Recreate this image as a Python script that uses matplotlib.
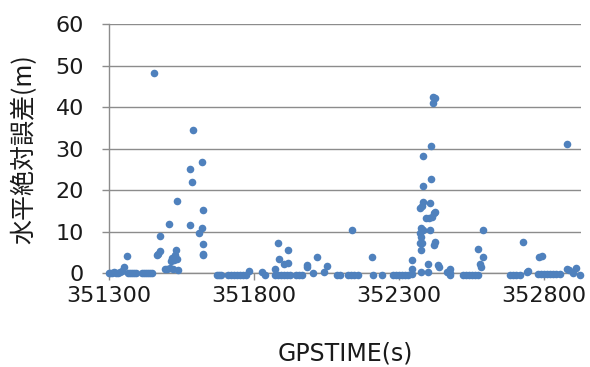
import matplotlib.pyplot as plt

plt.rcParams['font.family'] = ['DejaVu Sans', 'Noto Sans CJK JP']

# GPS time (s) and horizontal absolute error (m)
gps_time = [
    # first cluster near zero
    351300, 351303, 351310, 351317, 351324, 351331, 351338, 351345,
    351366, 351372, 351379, 351386, 351393,
    351414, 351421, 351428, 351435, 351441, 351448,
    351352, 351363,
    # first peak
    351455, 351465, 351470, 351476, 351476, 351507, 351534, 351579,
    351586, 351591, 351579, 351611, 351622, 351623, 351622, 351625,
    351623, 351625, 351531, 351518, 351524, 351534, 351514, 351528,
    351493, 351500, 351510, 351520, 351538,
    # low stretch
    351673, 351680, 351686, 351711, 351721, 351731, 351742, 351752,
    351762, 351773, 351783,
    351827, 351838,
    351873, 351883, 351893, 351904, 351914, 351924, 351945, 351956, 351966,
    351884, 351887, 351873, 351904, 351919, 351919, 351982, 351982,
    352004, 352016, 352042, 352051,
    352087, 352097, 352125, 352135, 352145, 352159, 352137,
    352208, 352210, 352241,
    352280, 352290, 352300, 352311, 352321, 352332, 352344, 352344, 352344,
    # second peak
    352375, 352402, 352375, 352378, 352373, 352376, 352373, 352384,
    352407, 352375, 352373, 352378, 352384, 352407, 352393, 352404,
    352413, 352425, 352420, 352425, 352421, 352384, 352411, 352384,
    352411, 352418, 352425, 352418, 352402, 352436, 352440,
    352466, 352476, 352476, 352476,
    352521, 352532, 352542, 352552, 352563, 352573,
    352574, 352589, 352589, 352580, 352582,
    # tail
    352683, 352694, 352704, 352718, 352729, 352741, 352746,
    352780, 352790, 352801, 352811, 352821, 352832, 352842, 352856,
    352784, 352793,
    352881, 352885, 352901, 352911, 352925, 352881,
]
h_error = [
    0.1, 0.1, 0.1, 0.2, 0.1, 0.1, 0.2, 0.5,
    0.1, 0.1, 0.1, 0.1, 0.1,
    0.1, 0.1, 0.1, 0.1, 0.1, 0.1,
    1.5, 4.1,
    48.3, 4.3, 4.6, 5.4, 8.9, 11.8, 17.3, 25.0,
    21.9, 34.6, 11.6, 9.8, 26.7, 15.2, 11.0, 7.0,
    4.7, 4.3, 5.7, 3.6, 3.3, 3.5, 3.0, 4.3,
    1.0, 1.1, 1.2, 1.0, 0.8,
    -0.4, -0.4, -0.4, -0.4, -0.4, -0.4, -0.4, -0.4,
    -0.4, -0.4, 0.6,
    0.3, -0.4,
    -0.4, -0.4, -0.4, -0.4, -0.4, -0.4, -0.4, -0.4, -0.4,
    7.3, 3.5, 1.1, 2.3, 2.5, 5.5, 1.9, 1.5,
    0.0, 3.9, 0.2, 1.8,
    -0.4, -0.4, -0.4, -0.4, -0.4, -0.4, 10.5,
    3.9, -0.4, -0.4,
    -0.4, -0.4, -0.4, -0.4, -0.4, -0.4, -0.2, 3.1, 1.1,
    0.2, 0.3, 5.7, 7.3, 9.6, 8.7, 7.2, 10.4,
    10.4, 10.8, 15.6, 16.3, 17.1, 16.9, 13.2, 13.2,
    13.6, 14.8, 14.4, 7.5, 6.9, 21.0, 22.8, 28.3,
    30.7, 42.5, 42.1, 41.1, 2.3, 1.9, 1.4,
    0.3, 1.1, 0.0, -0.4,
    -0.4, -0.4, -0.4, -0.4, -0.4, -0.4,
    5.9, 10.4, 3.9, 2.3, 1.5,
    -0.4, -0.4, -0.4, -0.4, 7.5, 0.3, 0.5,
    -0.2, -0.2, -0.2, -0.2, -0.2, -0.2, -0.2, -0.2,
    3.9, 4.1,
    1.0, 0.9, 0.1, 1.3, -0.4, 31.0,
]

x_ticks = [351300, 351800, 352300, 352800]
y_ticks = [0, 10, 20, 30, 40, 50, 60]

fig = plt.figure(figsize=(5.9, 3.67), dpi=100)
ax = fig.add_axes([0.1847, 0.2553, 0.80, 0.6793])

ax.scatter(gps_time, h_error, s=30, color="#4F81BD", linewidths=0,
           clip_on=False, zorder=3)

ax.set_xlim(351300, 352928)
ax.set_ylim(0, 60)
ax.set_xticks(x_ticks)
ax.set_yticks(y_ticks)

grid_c = "#8C8C8C"
ax.grid(axis="y", color=grid_c, linewidth=1.0)
ax.set_axisbelow(True)
for side in ["top", "right"]:
    ax.spines[side].set_visible(False)
for side in ["left", "bottom"]:
    ax.spines[side].set_color(grid_c)
    ax.spines[side].set_linewidth(1.0)
ax.tick_params(axis="both", colors=grid_c, length=5, width=1.0,
               labelcolor="#1a1a1a", labelsize=16)
ax.tick_params(axis="x", pad=4)
ax.tick_params(axis="y", pad=13)

ax.set_xlabel("GPSTIME(s)", fontsize=17, color="#1a1a1a", labelpad=26)
ax.set_ylabel("水平絶対誤差(m)", fontsize=18, color="#1a1a1a", labelpad=13,
              family=["Noto Sans CJK JP", "DejaVu Sans"])

fig.savefig("out.png", dpi=100)
